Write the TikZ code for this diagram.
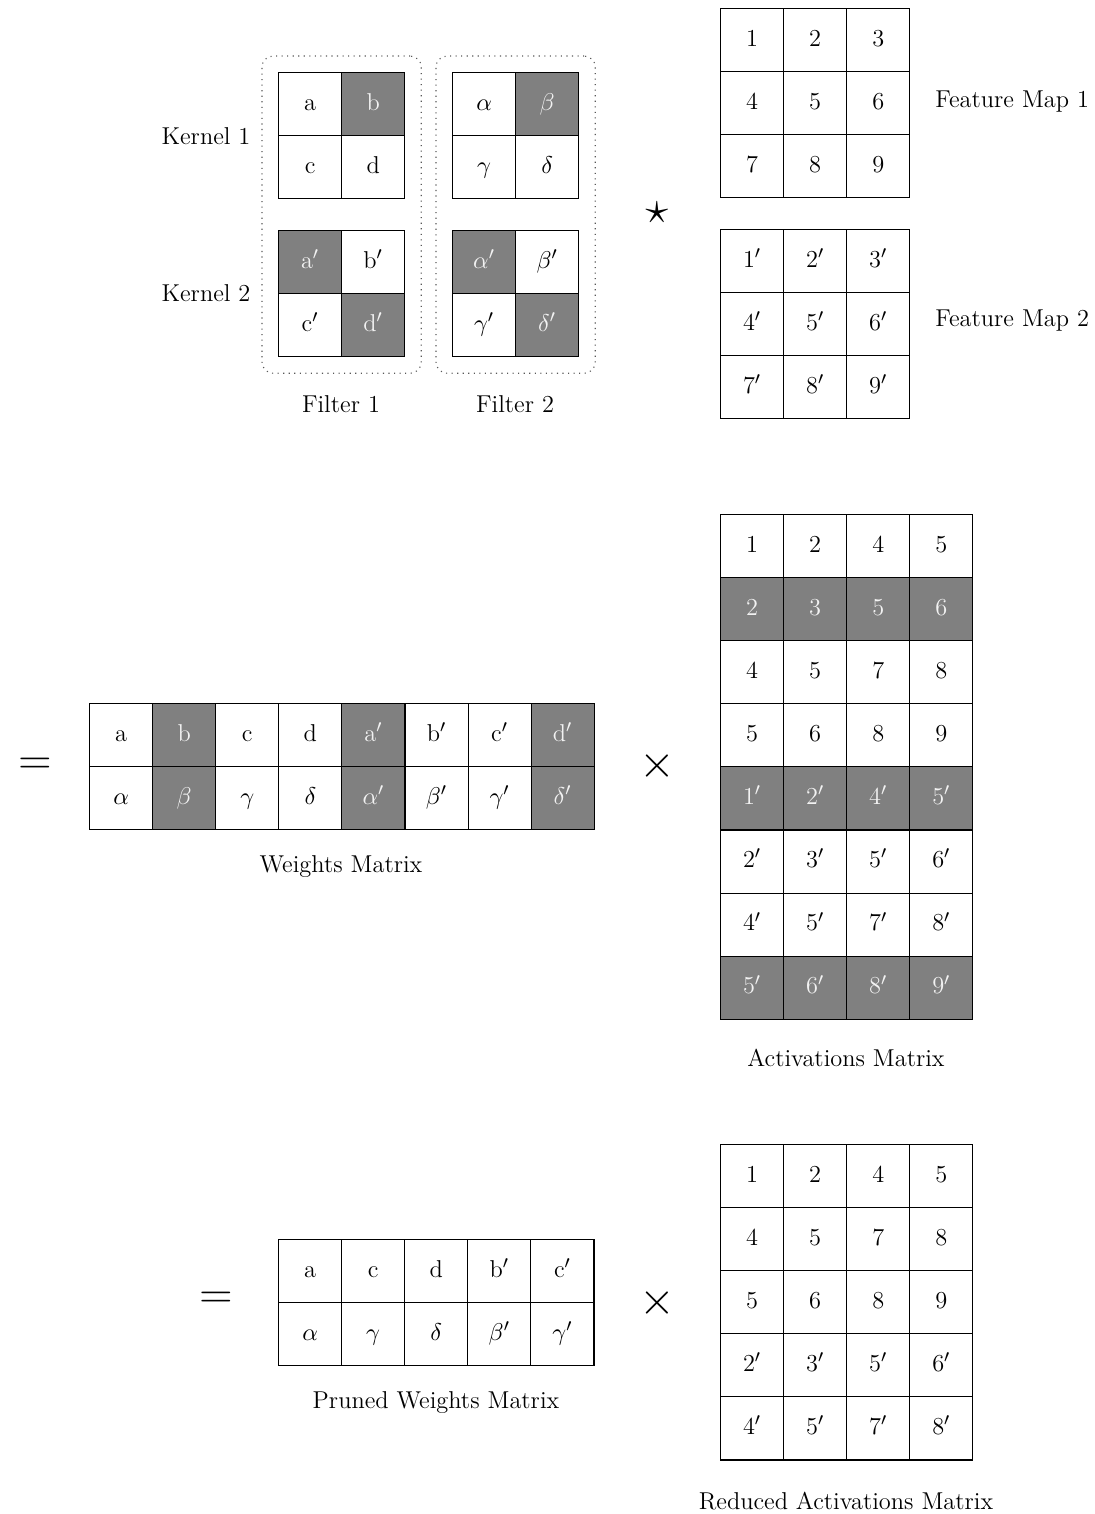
\documentclass[tikz,border=0pt]{standalone}
\usetikzlibrary{matrix,fit}
\definecolor{cellgray}{HTML}{808080}
\definecolor{celltext}{HTML}{F2F2F2}
\tikzset{
  x=0.451pt, y=-0.451pt,
  cell/.style={draw=black, line width=0.5pt, minimum size=1cm, inner sep=0pt, anchor=center,
    font=\fontsize{11}{13}\selectfont, text height=1.55ex, text depth=0.25ex},
  dark/.style={fill=cellgray, text=celltext},
  grid/.style={matrix of nodes, nodes={cell}, column sep=-0.5pt, row sep=-0.5pt,
    inner sep=0pt, outer sep=0pt, anchor=north west},
  lbl/.style={font=\fontsize{11}{13}\selectfont, inner sep=0pt},
  sym/.style={font=\huge, inner sep=0pt},
  filterbox/.style={draw=black!65, dotted, line width=0.5pt, rounded corners=5pt, inner sep=7.2pt}
}
\begin{document}
\begin{tikzpicture}
\useasboundingbox (0,0) rectangle (1095,1514);

% Filter 1
\matrix (K11) [grid] at (278,72) {
  a & |[dark]| b \\
  c & d \\
};
\matrix (K12) [grid] at (278,230) {
  |[dark]| a$'$ & b$'$ \\
  c$'$ & |[dark]| d$'$ \\
};
% Filter 2
\matrix (K21) [grid] at (452,72) {
  $\alpha$ & |[dark]| $\beta$ \\
  $\gamma$ & $\delta$ \\
};
\matrix (K22) [grid] at (452,230) {
  |[dark]| $\alpha'$ & $\beta'$ \\
  $\gamma'$ & |[dark]| $\delta'$ \\
};
\node[filterbox, fit=(K11)(K12)] (F1) {};
\node[filterbox, fit=(K21)(K22)] (F2) {};

\node[lbl] (kl1) at (206,136) {Kernel 1};
\node[lbl] (kl2) at (206,293) {Kernel 2};
\node[lbl] (fl1) at (341,404) {Filter 1};
\node[lbl] (fl2) at (515,404) {Filter 2};

% Feature maps
\matrix (FM1) [grid] at (720,8) {
  1 & 2 & 3 \\
  4 & 5 & 6 \\
  7 & 8 & 9 \\
};
\matrix (FM2) [grid] at (720,229) {
  1$'$ & 2$'$ & 3$'$ \\
  4$'$ & 5$'$ & 6$'$ \\
  7$'$ & 8$'$ & 9$'$ \\
};
\node[lbl, anchor=west] (fml1) at (935,102) {Feature Map 1};
\node[lbl, anchor=west] (fml2) at (935,321) {Feature Map 2};
\node[sym] (star) at (657,213) {$\star$};

% Weights matrix
\node[sym] (eq1) at (35,766) {$=$};
\matrix (W) [grid] at (89,703) {
  a & |[dark]| b & c & d & |[dark]| a$'$ & b$'$ & c$'$ & |[dark]| d$'$ \\
  $\alpha$ & |[dark]| $\beta$ & $\gamma$ & $\delta$ & |[dark]| $\alpha'$ & $\beta'$ & $\gamma'$ & |[dark]| $\delta'$ \\
};
\node[lbl] (wl) at (341,867) {Weights Matrix};
\node[sym] (times1) at (657,766) {$\times$};

% Activations matrix
\matrix (A) [grid] at (720,514) {
  1 & 2 & 4 & 5 \\
  |[dark]| 2 & |[dark]| 3 & |[dark]| 5 & |[dark]| 6 \\
  4 & 5 & 7 & 8 \\
  5 & 6 & 8 & 9 \\
  |[dark]| 1$'$ & |[dark]| 2$'$ & |[dark]| 4$'$ & |[dark]| 5$'$ \\
  2$'$ & 3$'$ & 5$'$ & 6$'$ \\
  4$'$ & 5$'$ & 7$'$ & 8$'$ \\
  |[dark]| 5$'$ & |[dark]| 6$'$ & |[dark]| 8$'$ & |[dark]| 9$'$ \\
};
\node[lbl] (al) at (846,1058) {Activations Matrix};

% Pruned weights
\node[sym] (eq2) at (216,1300) {$=$};
\matrix (PW) [grid] at (278,1239) {
  a & c & d & b$'$ & c$'$ \\
  $\alpha$ & $\gamma$ & $\delta$ & $\beta'$ & $\gamma'$ \\
};
\node[lbl] (pwl) at (436,1403) {Pruned Weights Matrix};
\node[sym] (times2) at (657,1303) {$\times$};

% Reduced activations
\matrix (RA) [grid] at (720,1144) {
  1 & 2 & 4 & 5 \\
  4 & 5 & 7 & 8 \\
  5 & 6 & 8 & 9 \\
  2$'$ & 3$'$ & 5$'$ & 6$'$ \\
  4$'$ & 5$'$ & 7$'$ & 8$'$ \\
};
\node[lbl] (ral) at (846,1501) {Reduced Activations Matrix};
\end{tikzpicture}
\end{document}
